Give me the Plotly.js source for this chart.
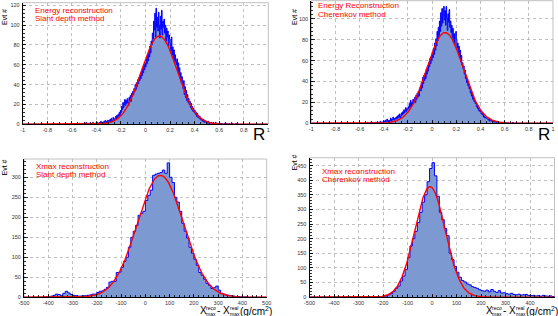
<!DOCTYPE html>
<html><head><meta charset="utf-8">
<script src="https://cdn.plot.ly/plotly-3.0.1.min.js"></script>
<style>html,body{margin:0;padding:0;background:#fff;}#c{width:558px;height:316px;}</style>
</head><body><div id="c"></div>
<script>
// ---------------- DATA ----------------
// Energy reconstruction, slant depth method: R histogram (bin width 0.005, first bin edge -0.55)
const tlStart = -0.55, tlWidth = 0.005;
const tlCounts = [
 0,0,1,0,0,0,0,1,0,0,
 1,0,0,2,0,0,1,0,0,1,
 0,1,0,0,2,1,0,0,1,0,
 1,2,0,1,0,2,1,3,1,2,
 2,1,3,2,4,2,3,1,4,3,
 4,3,5,2,6,4,3,7,5,4,
 6,8,5,9,7,10,8,12,9,14,
 12,18,15,22,17,20,25,19,24,21,
 26,22,19,27,24,29,23,31,28,33,
 30,36,33,40,35,42,38,45,41,47,
 44,50,46,53,49,57,52,60,55,62,
 58,66,61,70,64,74,68,79,72,84,
 80,92,86,104,95,112,88,117,98,108,
 94,113,100,87,109,96,115,90,104,98,
 106,92,100,84,97,88,94,79,90,86,
 82,74,88,70,78,66,75,62,70,64,
 60,66,55,62,50,57,46,52,42,48,
 40,36,44,30,38,27,34,24,30,22,
 26,20,23,17,21,15,18,13,16,12,
 14,10,12,8,11,7,9,6,8,5,
 6,4,5,3,5,2,4,3,2,3,
 2,1,3,1,2,0,1,2,0,1,
 1,0,1,0,2,0,0,1,0,0,
 0,1,0,0,1,0,0,0,1,0,
 0,0,1,0,0,0,1,0,0,0,
 0,1,0,0,0,0,0,1,0,0
];
// Energy reconstruction, Cherenkov method
const trStart = -0.55, trWidth = 0.005;
const trCounts = [
 0,0,0,1,0,0,0,0,1,0,
 0,1,0,0,0,1,0,0,1,0,
 1,0,1,0,2,0,1,1,0,2,
 2,1,3,1,2,4,2,1,3,2,
 3,5,2,4,3,6,4,3,5,4,
 6,4,7,5,8,6,9,5,7,10,
 8,11,9,13,10,12,15,11,14,13,
 16,14,19,15,22,17,20,18,23,19,
 21,25,20,27,23,29,25,31,26,33,
 35,31,39,34,44,38,46,41,48,43,
 52,47,55,50,58,54,62,57,64,60,
 68,63,72,66,77,70,81,74,88,79,
 92,84,98,88,106,93,110,96,103,112,
 99,108,94,112,101,89,105,97,109,92,
 98,87,94,82,91,78,86,75,84,88,
 80,72,77,68,74,63,70,59,65,56,
 58,52,55,47,51,43,46,39,42,36,
 38,33,35,29,31,26,28,23,25,21,
 22,19,20,16,17,14,15,12,13,11,
 12,9,10,8,9,6,7,5,6,5,
 5,4,4,3,4,2,3,3,2,2,
 2,3,1,2,1,2,1,0,2,1,
 1,1,0,1,0,1,0,0,1,0,
 0,1,0,0,0,1,0,0,0,0,
 0,0,0,1,0,0,0,0,0,0,
 0,0,0,0,0,0,0,0,0,0
];
// Xmax reconstruction, slant depth method (bin width 10 g/cm2, first edge -500)
const blStart = -500, blWidth = 10;
const blCounts = [
 0,0,0,0,0,0,0,0,1,1,
 1,3,5,8,7,4,10,15,11,7,
 5,4,3,3,4,4,5,6,8,8,
 12,15,16,20,25,38,40,40,62,63,
 75,90,100,125,150,165,180,205,210,215,
 242,255,268,305,308,310,312,318,310,336,
 300,287,250,238,215,185,165,148,125,110,
 95,80,62,55,45,35,30,22,24,28,
 18,10,8,6,5,4,3,2,2,1,
 1,1,0,0,0,0,0,0,0,0
];
// Xmax reconstruction, Cherenkov method
const brStart = -500, brWidth = 10;
const brCounts = [
 0,0,0,0,0,0,0,0,0,0,
 0,0,0,0,0,0,0,0,0,0,
 0,0,1,0,0,1,0,1,1,2,
 3,4,8,12,20,30,38,55,72,95,
 135,175,200,225,255,290,325,350,395,440,
 460,415,345,290,265,235,210,150,128,105,
 85,68,57,52,45,42,36,33,30,25,
 22,20,24,18,26,20,16,22,14,15,
 12,10,13,9,8,10,7,8,9,6,
 5,6,4,5,3,6,4,3,4,2
];
// Gaussian fit parameters (amplitude, mean, sigma)
const tlFit = {amp: 89, mean: 0.113, sigma: 0.145};
const trFit = {amp: 87, mean: 0.107, sigma: 0.15};
const blFit = {amp: 305, mean: 62, sigma: 95};
const brFit = {amp: 378, mean: -8, sigma: 62};

// tick labels
const rTickVals = [-1,-0.8,-0.6,-0.4,-0.2,0,0.2,0.4,0.6,0.8,1];
const rTickText = ['-1','-0.8','-0.6','-0.4','-0.2','0','0.2','0.4','0.6','0.8','1'];
const xmTickVals = [-500,-400,-300,-200,-100,0,100,200,300,400,500];
const xmTickText = ['-500','-400','-300','-200','-100','0','100','200','300','400','500'];
const tlYTicks = [0,20,40,60,80,100,120];
const trYTicks = [0,20,40,60,80,100];
const blYTicks = [0,50,100,150,200,250,300];
const brYTicks = [0,50,100,150,200,250,300,350,400,450];

const panelText = [
  ['Energy reconstruction','Slant depth method'],
  ['Energy Reconstruction','Cherenkov method'],
  ['Xmax reconstruction','Slant depth method'],
  ['Xmax reconstruction','Cherenkov method']
];

// ---------------- BUILD ----------------
const W = 558, H = 316;
const FONT = 'Liberation Sans, Arial, Helvetica, sans-serif';
const FILL = '#7d99d1', EDGE = '#0000ff', FITC = '#ff0000';

function stepTrace(start, width, counts, xmin, xmax, xa, ya) {
  const xs = [], ys = [];
  const nPre = Math.round((start - xmin) / width);
  for (let i = 0; i < nPre; i++) { xs.push(xmin + i * width); ys.push(0); }
  counts.forEach((c, i) => { xs.push(start + i * width); ys.push(c); });
  let e = start + counts.length * width;
  const nPost = Math.round((xmax - e) / width);
  for (let i = 0; i < nPost; i++) { xs.push(e + i * width); ys.push(0); }
  xs.push(xmax); ys.push(0);
  return {x: xs, y: ys, xaxis: xa, yaxis: ya, type: 'scatter', mode: 'lines',
    line: {shape: 'hv', color: EDGE, width: 1}, fill: 'tozeroy', fillcolor: FILL,
    hoverinfo: 'skip', showlegend: false};
}
function fitTrace(p, xmin, xmax, xa, ya) {
  const xs = [], ys = [];
  const n = 500;
  for (let i = 0; i <= n; i++) {
    const x = xmin + (xmax - xmin) * i / n;
    xs.push(x); ys.push(p.amp * Math.exp(-0.5 * Math.pow((x - p.mean) / p.sigma, 2)));
  }
  return {x: xs, y: ys, xaxis: xa, yaxis: ya, type: 'scatter', mode: 'lines',
    line: {color: FITC, width: 1.4}, hoverinfo: 'skip', showlegend: false};
}

const data = [
  stepTrace(tlStart, tlWidth, tlCounts, -1, 1, 'x', 'y'),
  fitTrace(tlFit, -1, 1, 'x', 'y'),
  stepTrace(trStart, trWidth, trCounts, -1, 1, 'x2', 'y2'),
  fitTrace(trFit, -1, 1, 'x2', 'y2'),
  stepTrace(blStart, blWidth, blCounts, -500, 500, 'x3', 'y3'),
  fitTrace(blFit, -500, 500, 'x3', 'y3'),
  stepTrace(brStart, brWidth, brCounts, -500, 500, 'x4', 'y4'),
  fitTrace(brFit, -500, 500, 'x4', 'y4')
];

const px = v => v / W, py = v => 1 - v / H;
const tickFont = {family: FONT, size: 5.5, color: '#333'};
function xax(d, range, vals, text, minorD, anchor) {
  return {domain: d, range: range, anchor: anchor, tickmode: 'array', tickvals: vals, ticktext: text,
    ticks: 'inside', ticklen: 3.5, tickcolor: '#000', tickwidth: 0.8, tickfont: tickFont,
    ticklabelstandoff: 0,
    showline: true, linecolor: '#000', linewidth: 1, zeroline: false,
    showgrid: true, gridcolor: '#b0b0b0', griddash: 'dot', gridwidth: 0.8,
    minor: {dtick: minorD, ticks: 'inside', ticklen: 2, tickcolor: '#000', showgrid: false},
    fixedrange: true};
}
function yax(d, range, vals, minorD, anchor) {
  return {domain: d, range: range, anchor: anchor, tickmode: 'array', tickvals: vals,
    ticktext: vals.map(String),
    ticks: 'inside', ticklen: 3.5, tickcolor: '#000', tickwidth: 0.8, tickfont: tickFont,
    ticklabelstandoff: 1,
    showline: true, linecolor: '#000', linewidth: 1, zeroline: false,
    showgrid: true, gridcolor: '#b0b0b0', griddash: 'dot', gridwidth: 0.8,
    minor: {dtick: minorD, ticks: 'inside', ticklen: 2, tickcolor: '#000', showgrid: false},
    fixedrange: true};
}

const layout = {
  width: W, height: H, margin: {l: 0, r: 0, t: 0, b: 0},
  paper_bgcolor: '#fff', plot_bgcolor: '#fff', showlegend: false,
  font: {family: FONT},
  xaxis:  xax([px(22.7), px(268.3)], [-1, 1], rTickVals, rTickText, 0.05, 'y'),
  yaxis:  yax([py(124.3), py(2.7)], [0, 122.6], tlYTicks, 4, 'x'),
  xaxis2: xax([px(311.3), px(553)], [-1, 1], rTickVals, rTickText, 0.05, 'y2'),
  yaxis2: yax([py(123.3), py(0.7)], [0, 117.5], trYTicks, 4, 'x2'),
  xaxis3: xax([px(24), px(266.7)], [-500, 500], xmTickVals, xmTickText, 20, 'y3'),
  yaxis3: yax([py(297.3), py(159)], [0, 345.7], blYTicks, 10, 'x3'),
  xaxis4: xax([px(309.5), px(554.5)], [-500, 500], xmTickVals, xmTickText, 20, 'y4'),
  yaxis4: yax([py(297.1), py(157.7)], [0, 477], brYTicks, 10, 'x4'),
  shapes: [], annotations: []
};
['', '2', '3', '4'].forEach(s => {
  layout.shapes.push({type: 'rect', xref: 'x' + s + ' domain', yref: 'y' + s + ' domain',
    x0: 0, x1: 1, y0: 0, y1: 1, line: {color: '#c0c0c0', width: 1}, layer: 'below'});
});

function ann(x, y, text, o) {
  return Object.assign({xref: 'paper', yref: 'paper', x: px(x), y: py(y), text: text,
    showarrow: false, xanchor: 'left', yanchor: 'middle', borderpad: 0,
    font: {family: FONT, size: 8, color: FITC}}, o || {});
}
// panel legends (red)
const textPos = [[34, 10.2, 18.5], [317.3, 5.8, 14.2], [34.5, 166.5, 174.5], [321.3, 171.5, 179.5]];
textPos.forEach((p, i) => {
  layout.annotations.push(ann(p[0], p[1], panelText[i][0]));
  layout.annotations.push(ann(p[0], p[2], panelText[i][1]));
});
// y titles
const evtPos = [[4.5, 17.5], [294.5, 17.5], [4.5, 168], [293.5, 163]];
evtPos.forEach(p => layout.annotations.push(ann(p[0], p[1], 'Evt #',
  {xanchor: 'center', textangle: -90, font: {family: FONT, size: 7, color: '#000'}})));
// R titles
[[259, 134], [544, 134]].forEach(p => layout.annotations.push(ann(p[0], p[1], 'R',
  {xanchor: 'center', font: {family: FONT, size: 17, color: '#000'}})));
// Xmax titles
[198.5, 484.8].forEach(x0 => {
  const big = {family: FONT, size: 10, color: '#000'}, sm = {family: FONT, size: 5, color: '#000'};
  layout.annotations.push(ann(x0, 310.6, 'X', {font: big}));
  layout.annotations.push(ann(x0 + 6.6, 307.7, 'reco', {font: sm}));
  layout.annotations.push(ann(x0 + 6.6, 313.7, 'max', {font: sm}));
  layout.annotations.push(ann(x0 + 17, 310.6, '- X', {font: big}));
  layout.annotations.push(ann(x0 + 30, 307.7, 'real', {font: sm}));
  layout.annotations.push(ann(x0 + 30, 313.7, 'max', {font: sm}));
  layout.annotations.push(ann(x0 + 40, 310.6, '(g/cm<sup>2</sup>)', {font: big}));
});

Plotly.newPlot('c', data, layout, {staticPlot: true, displayModeBar: false});
</script></body></html>
